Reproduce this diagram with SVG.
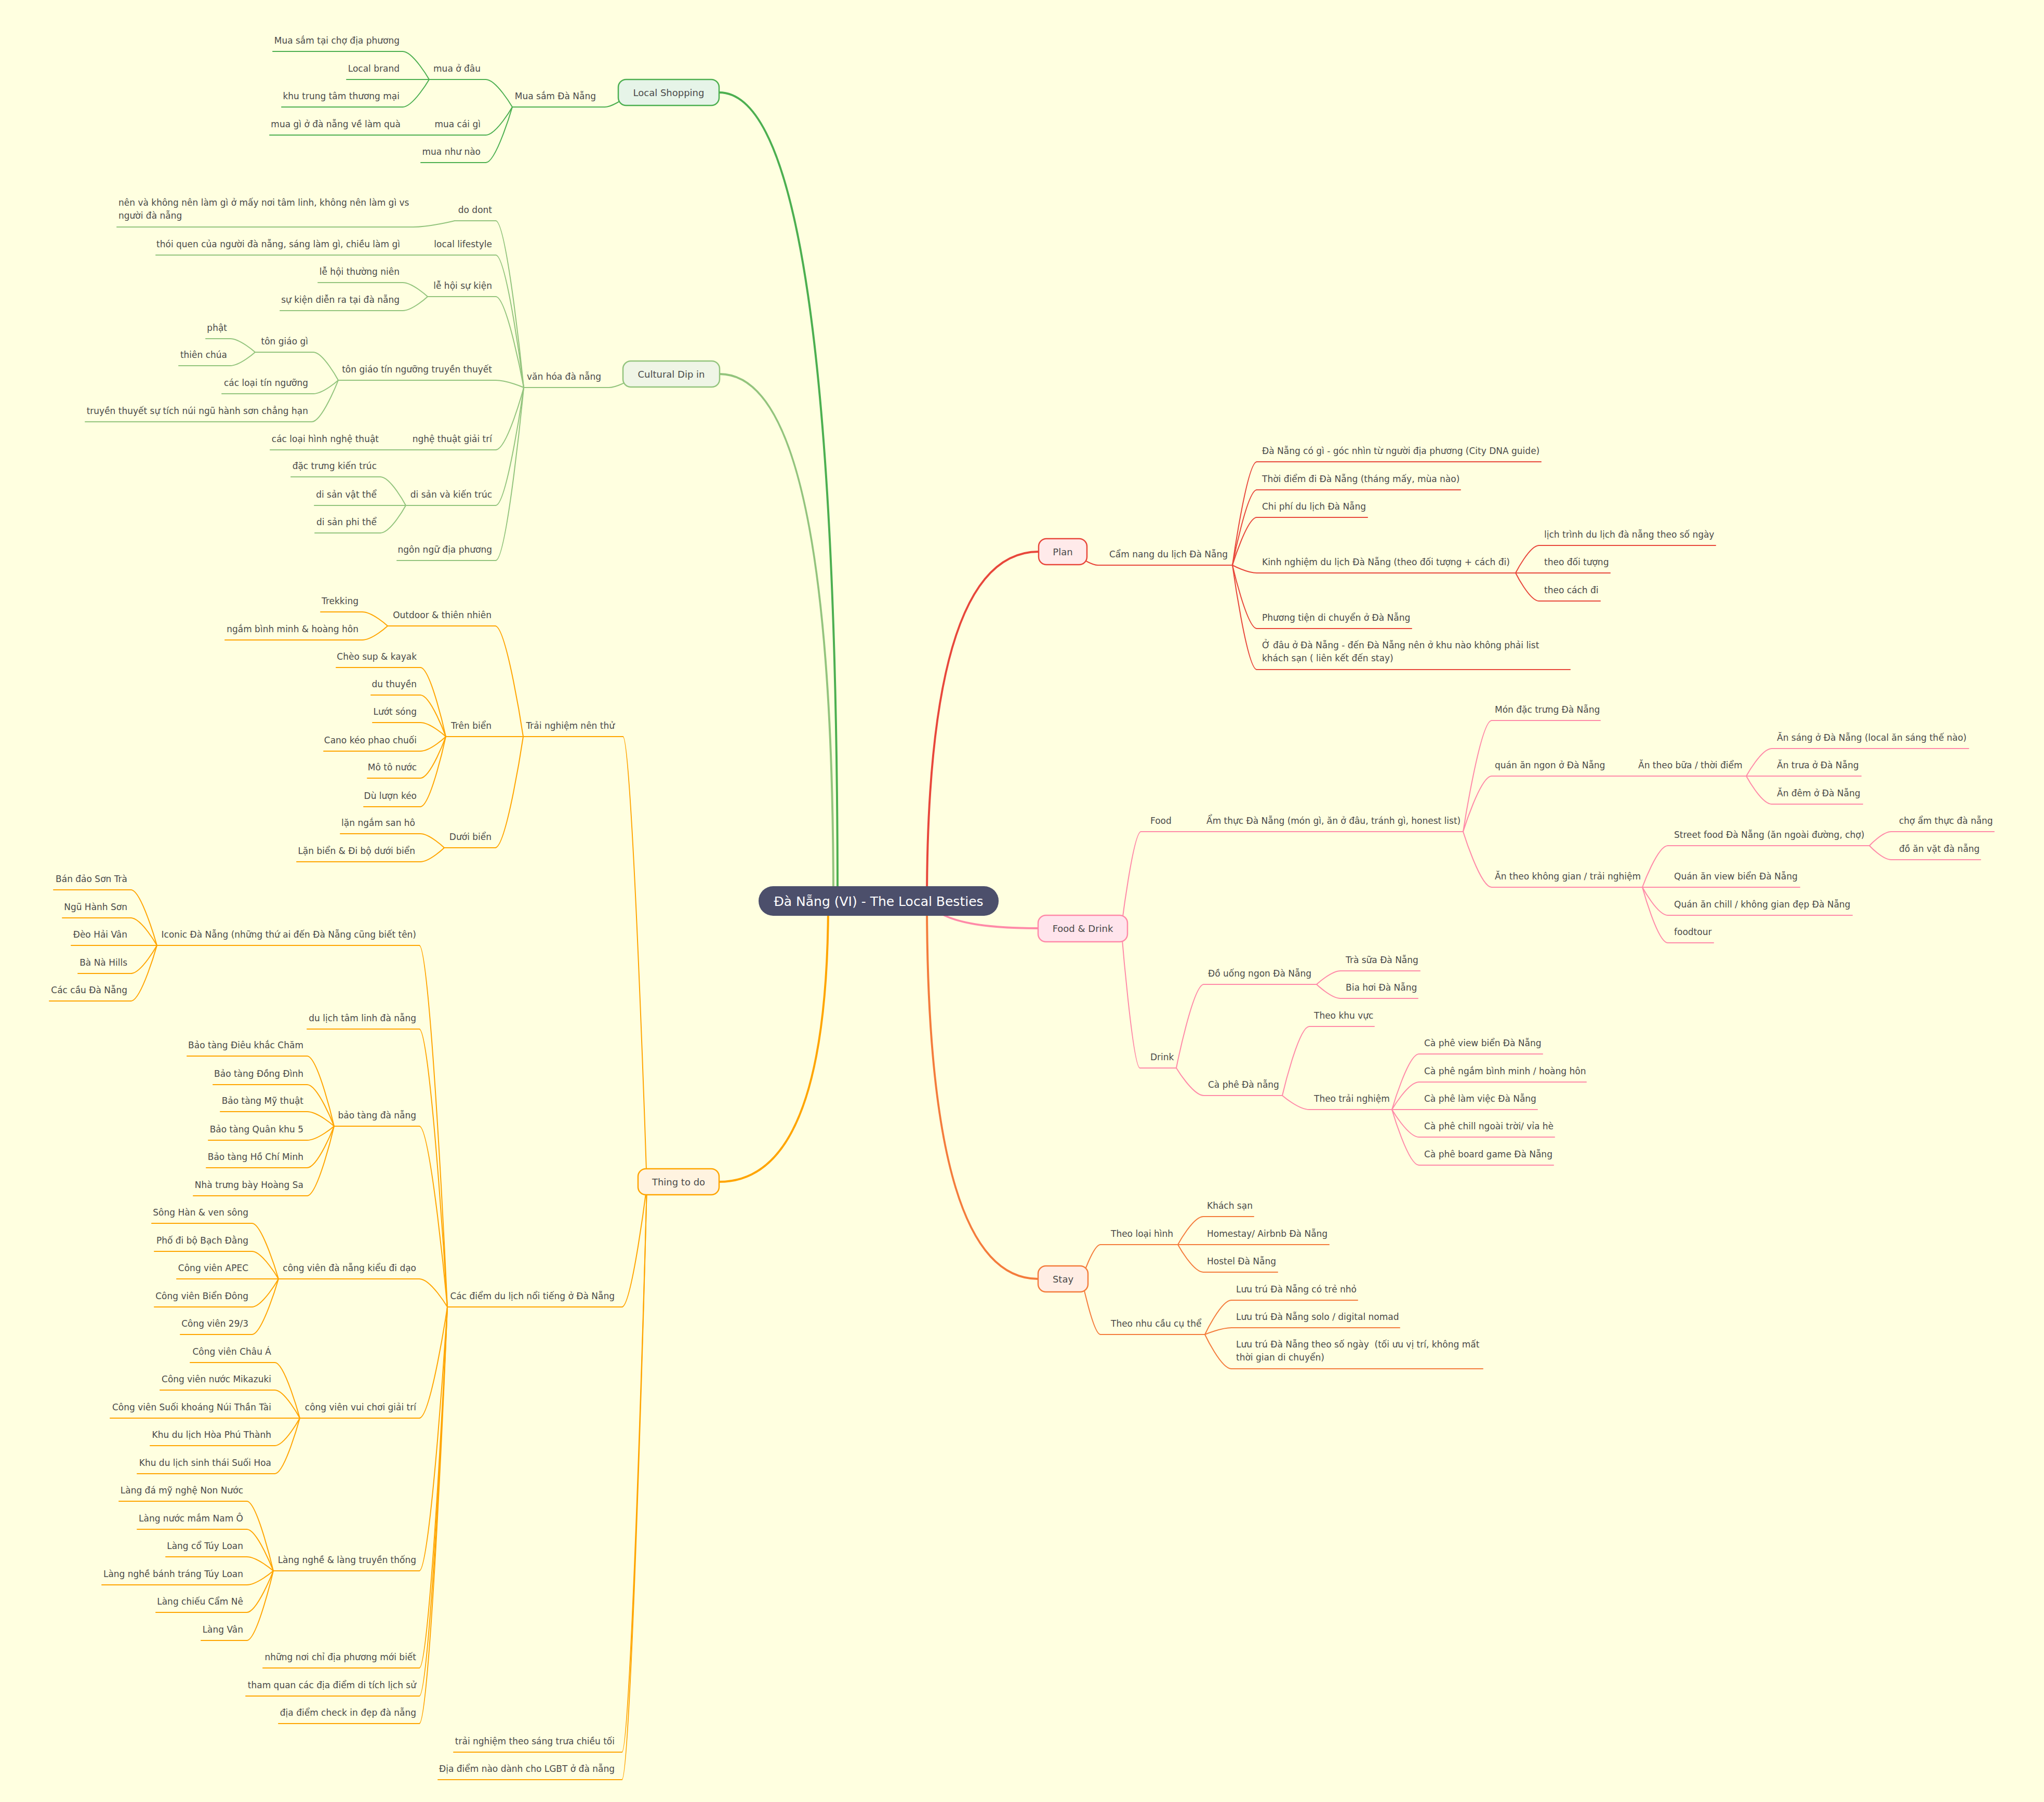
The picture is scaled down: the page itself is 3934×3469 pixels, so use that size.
<svg xmlns="http://www.w3.org/2000/svg" width="3934" height="3469" viewBox="0 0 3934 3469">
<style>
.t{font-family:"DejaVu Sans","Liberation Sans",sans-serif;font-size:17px;fill:#4a4a4a}
.e{text-anchor:end}
.m{font-size:18px;text-anchor:middle}
.rt{font-size:25px;text-anchor:middle;fill:#ffffff}
path{fill:none;stroke-width:2;stroke-linecap:round}
.g{stroke:#4caf50}.c{stroke:#93c47d}.o{stroke:#ffa500}.r{stroke:#e8473b}.p{stroke:#ff8aa8}.s{stroke:#f47c3c}
.mn{stroke-width:4}
.bx{stroke-width:2.5}
</style>
<rect width="3934" height="3469" fill="#ffffe0"/>
<g id="connectors">
<g class="g">
<path d="M1164,206 C1178,206 1200,190 1200,190"/>
<path d="M935,153 C955,153 986,206 986,206"/>
<path d="M935,260 C955,260 986,206 986,206"/>
<path d="M935,313 C955,313 986,206 986,206"/>
<path d="M775,99 C795,99 826,153 826,153"/>
<path d="M775,153 H826"/>
<path d="M775,206 C795,206 826,153 826,153"/>
<path d="M777,260 H829"/>
</g>
<g class="c">
<path d="M1172,746 C1187,746 1209,733 1209,733"/>
<path d="M954,425 C976,425 1008,746 1008,746"/>
<path d="M954,491 C976,491 1008,746 1008,746"/>
<path d="M954,571 C976,571 1008,746 1008,746"/>
<path d="M954,732 C976,732 1008,746 1008,746"/>
<path d="M954,866 C976,866 1008,746 1008,746"/>
<path d="M954,973 C976,973 1008,746 1008,746"/>
<path d="M954,1079 C976,1079 1008,746 1008,746"/>
<path d="M795,437 C827,437 875,425 875,425"/>
<path d="M776,491 H828"/>
<path d="M775,544 C794,544 823,571 823,571"/>
<path d="M775,598 C794,598 823,571 823,571"/>
<path d="M603,678 C622,678 651,732 651,732"/>
<path d="M603,758 C622,758 651,732 651,732"/>
<path d="M600,812 C620,812 651,732 651,732"/>
<path d="M443,652 C462,652 491,678 491,678"/>
<path d="M443,704 C462,704 491,678 491,678"/>
<path d="M735,866 H790"/>
<path d="M732,918 C752,918 781,973 781,973"/>
<path d="M732,973 H781"/>
<path d="M732,1026 C752,1026 781,973 781,973"/>
</g>
<g class="o">
<path d="M1199,1418 C1217,1418 1245,2282 1245,2282"/>
<path d="M1197,2516 C1216,2516 1245,2282 1245,2282"/>
<path d="M1197,3373 C1216,3373 1245,2282 1245,2282"/>
<path d="M1197,3426 C1216,3426 1245,2282 1245,2282"/>
<path d="M953,1205 C975,1205 1007,1418 1007,1418"/>
<path d="M953,1418 H1007"/>
<path d="M953,1632 C975,1632 1007,1418 1007,1418"/>
<path d="M697,1178 C717,1178 746,1205 746,1205"/>
<path d="M697,1232 C717,1232 746,1205 746,1205"/>
<path d="M809,1285 C829,1285 858,1418 858,1418"/>
<path d="M809,1338 C829,1338 858,1418 858,1418"/>
<path d="M809,1391 C829,1391 858,1418 858,1418"/>
<path d="M809,1446 C829,1446 858,1418 858,1418"/>
<path d="M809,1498 C829,1498 858,1418 858,1418"/>
<path d="M809,1553 C829,1553 858,1418 858,1418"/>
<path d="M809,1605 C827,1605 855,1632 855,1632"/>
<path d="M809,1659 C827,1659 855,1632 855,1632"/>
<path d="M807,1820 C829,1820 861,2516 861,2516"/>
<path d="M807,1981 C829,1981 861,2516 861,2516"/>
<path d="M807,2168 C829,2168 861,2516 861,2516"/>
<path d="M807,2462 C829,2462 861,2516 861,2516"/>
<path d="M807,2730 C829,2730 861,2516 861,2516"/>
<path d="M807,3024 C829,3024 861,2516 861,2516"/>
<path d="M807,3211 C829,3211 861,2516 861,2516"/>
<path d="M807,3265 C829,3265 861,2516 861,2516"/>
<path d="M807,3318 C829,3318 861,2516 861,2516"/>
<path d="M252,1713 C272,1713 302,1820 302,1820"/>
<path d="M252,1767 C272,1767 302,1820 302,1820"/>
<path d="M252,1820 H302"/>
<path d="M252,1874 C272,1874 302,1820 302,1820"/>
<path d="M252,1927 C272,1927 302,1820 302,1820"/>
<path d="M591,2033 C612,2033 643,2168 643,2168"/>
<path d="M591,2088 C612,2088 643,2168 643,2168"/>
<path d="M591,2140 C612,2140 643,2168 643,2168"/>
<path d="M591,2195 C612,2195 643,2168 643,2168"/>
<path d="M591,2248 C612,2248 643,2168 643,2168"/>
<path d="M591,2302 C612,2302 643,2168 643,2168"/>
<path d="M485,2355 C505,2355 536,2462 536,2462"/>
<path d="M485,2409 C505,2409 536,2462 536,2462"/>
<path d="M485,2462 H536"/>
<path d="M485,2516 C505,2516 536,2462 536,2462"/>
<path d="M485,2569 C505,2569 536,2462 536,2462"/>
<path d="M529,2623 C548,2623 577,2730 577,2730"/>
<path d="M529,2676 C548,2676 577,2730 577,2730"/>
<path d="M529,2730 H577"/>
<path d="M529,2783 C548,2783 577,2730 577,2730"/>
<path d="M529,2837 C548,2837 577,2730 577,2730"/>
<path d="M475,2890 C495,2890 526,3024 526,3024"/>
<path d="M475,2944 C495,2944 526,3024 526,3024"/>
<path d="M475,2997 C495,2997 526,3024 526,3024"/>
<path d="M475,3051 C495,3051 526,3024 526,3024"/>
<path d="M475,3104 C495,3104 526,3024 526,3024"/>
<path d="M475,3158 C495,3158 526,3024 526,3024"/>
</g>
<g class="r">
<path d="M2113,1088 C2101,1088 2082,1075 2082,1075"/>
<path d="M2419,889 C2400,889 2372,1088 2372,1088"/>
<path d="M2419,943 C2400,943 2372,1088 2372,1088"/>
<path d="M2419,996 C2400,996 2372,1088 2372,1088"/>
<path d="M2419,1103 C2400,1103 2372,1088 2372,1088"/>
<path d="M2419,1210 C2400,1210 2372,1088 2372,1088"/>
<path d="M2419,1289 C2400,1289 2372,1088 2372,1088"/>
<path d="M2962,1050 C2944,1050 2917,1103 2917,1103"/>
<path d="M2962,1103 H2917"/>
<path d="M2962,1157 C2944,1157 2917,1103 2917,1103"/>
</g>
<g class="p">
<path d="M2196,1601 C2181,1601 2158,1787 2158,1787"/>
<path d="M2194,2056 C2180,2056 2158,1787 2158,1787"/>
<path d="M2264,1601 H2314"/>
<path d="M2871,1387 C2849,1387 2816,1601 2816,1601"/>
<path d="M2871,1494 C2849,1494 2816,1601 2816,1601"/>
<path d="M2871,1708 C2849,1708 2816,1601 2816,1601"/>
<path d="M3095,1494 H3145"/>
<path d="M3410,1441 C3390,1441 3361,1494 3361,1494"/>
<path d="M3410,1494 H3361"/>
<path d="M3410,1548 C3390,1548 3361,1494 3361,1494"/>
<path d="M3210,1628 C3190,1628 3161,1708 3161,1708"/>
<path d="M3210,1708 H3161"/>
<path d="M3210,1762 C3190,1762 3161,1708 3161,1708"/>
<path d="M3210,1815 C3190,1815 3161,1708 3161,1708"/>
<path d="M3640,1601 C3623,1601 3598,1628 3598,1628"/>
<path d="M3640,1655 C3623,1655 3598,1628 3598,1628"/>
<path d="M2317,1895 C2296,1895 2264,2056 2264,2056"/>
<path d="M2317,2109 C2296,2109 2264,2056 2264,2056"/>
<path d="M2580,1869 C2562,1869 2534,1895 2534,1895"/>
<path d="M2580,1922 C2562,1922 2534,1895 2534,1895"/>
<path d="M2520,1976 C2499,1976 2468,2109 2468,2109"/>
<path d="M2520,2136 C2499,2136 2468,2109 2468,2109"/>
<path d="M2731,2029 C2710,2029 2679,2136 2679,2136"/>
<path d="M2731,2083 C2710,2083 2679,2136 2679,2136"/>
<path d="M2731,2136 H2679"/>
<path d="M2731,2189 C2710,2189 2679,2136 2679,2136"/>
<path d="M2731,2243 C2710,2243 2679,2136 2679,2136"/>
</g>
<g class="s">
<path d="M2118,2396 C2104,2396 2082,2462 2082,2462"/>
<path d="M2118,2569 C2104,2569 2082,2462 2082,2462"/>
<path d="M2316,2342 C2296,2342 2267,2396 2267,2396"/>
<path d="M2316,2396 H2267"/>
<path d="M2316,2449 C2296,2449 2267,2396 2267,2396"/>
<path d="M2370,2503 C2350,2503 2319,2569 2319,2569"/>
<path d="M2370,2556 C2350,2556 2319,2569 2319,2569"/>
<path d="M2370,2635 C2350,2635 2319,2569 2319,2569"/>
</g>
<path class="g mn" d="M1612,1735 Q1612,178 1384,178"/>
<path class="c mn" d="M1604,1735 Q1604,720 1385,720"/>
<path class="o mn" d="M1594,1735 Q1594,2275 1384,2275"/>
<path class="r mn" d="M1784,1735 Q1784,1062 1999,1062"/>
<path class="s mn" d="M1784,1735 Q1784,2462 1998,2462"/>
<path class="p mn" d="M1790,1740 Q1820,1787 1998,1787"/>
</g>

<!-- Local Shopping -->
<g id="n-mua-sam"><path class="g" d="M986,206 H1164"/><text class="t e" x="1147" y="191">Mua sắm Đà Nẵng</text></g>
<g id="n-mua-o-dau"><path class="g" d="M826,153 H935"/><text class="t e" x="925" y="138">mua ở đâu</text></g>
<g id="n-cho"><path class="g" d="M525,99 H775"/><text class="t e" x="769" y="84">Mua sắm tại chợ địa phương</text></g>
<g id="n-local-brand"><path class="g" d="M667,153 H775"/><text class="t e" x="769" y="138">Local brand</text></g>
<g id="n-ttm"><path class="g" d="M542,206 H775"/><text class="t e" x="769" y="191">khu trung tâm thương mại</text></g>
<g id="n-mua-cai-gi"><path class="g" d="M829,260 H935"/><text class="t e" x="925" y="245">mua cái gì</text></g>
<g id="n-qua"><path class="g" d="M519,260 H777"/><text class="t e" x="771" y="245">mua gì ở đà nẵng về làm quà</text></g>
<g id="n-mua-nhu-nao"><path class="g" d="M810,313 H935"/><text class="t e" x="925" y="298">mua như nào</text></g>

<!-- Cultural -->
<g id="n-van-hoa"><path class="c" d="M1008,746 H1172"/><text class="t e" x="1157" y="731">văn hóa đà nẵng</text></g>
<g id="n-do-dont"><path class="c" d="M875,425 H954"/><text class="t e" x="947" y="410">do dont</text></g>
<g id="n-nen"><path class="c" d="M225,437 H795"/><text class="t" x="228" y="396">nên và không nên làm gì ở mấy nơi tâm linh, không nên làm gì vs</text><text class="t" x="228" y="421">người đà nẵng</text></g>
<g id="n-lifestyle"><path class="c" d="M828,491 H954"/><text class="t e" x="947" y="476">local lifestyle</text></g>
<g id="n-thoi-quen"><path class="c" d="M300,491 H776"/><text class="t e" x="770" y="476">thói quen của người đà nẵng, sáng làm gì, chiều làm gì</text></g>
<g id="n-le-hoi"><path class="c" d="M823,571 H954"/><text class="t e" x="947" y="556">lễ hội sự kiện</text></g>
<g id="n-le-hoi-tn"><path class="c" d="M612,544 H775"/><text class="t e" x="769" y="529">lễ hội thường niên</text></g>
<g id="n-su-kien"><path class="c" d="M539,598 H775"/><text class="t e" x="769" y="583">sự kiện diễn ra tại đà nẵng</text></g>
<g id="n-ton-giao-tn"><path class="c" d="M651,732 H954"/><text class="t e" x="947" y="717">tôn giáo tín ngưỡng truyền thuyết</text></g>
<g id="n-ton-giao-gi"><path class="c" d="M491,678 H603"/><text class="t e" x="593" y="663">tôn giáo gì</text></g>
<g id="n-phat"><path class="c" d="M396,652 H443"/><text class="t e" x="437" y="637">phật</text></g>
<g id="n-thien-chua"><path class="c" d="M344,704 H443"/><text class="t e" x="437" y="689">thiên chúa</text></g>
<g id="n-tin-nguong"><path class="c" d="M427,758 H603"/><text class="t e" x="593" y="743">các loại tín ngưỡng</text></g>
<g id="n-truyen-thuyet"><path class="c" d="M164,812 H600"/><text class="t e" x="593" y="797">truyền thuyết sự tích núi ngũ hành sơn chẳng hạn</text></g>
<g id="n-nghe-thuat"><path class="c" d="M790,866 H954"/><text class="t e" x="947" y="851">nghệ thuật giải trí</text></g>
<g id="n-loai-hinh-nt"><path class="c" d="M520,866 H735"/><text class="t e" x="729" y="851">các loại hình nghệ thuật</text></g>
<g id="n-di-san"><path class="c" d="M781,973 H954"/><text class="t e" x="947" y="958">di sản và kiến trúc</text></g>
<g id="n-dac-trung"><path class="c" d="M560,918 H732"/><text class="t e" x="725" y="903">đặc trưng kiến trúc</text></g>
<g id="n-vat-the"><path class="c" d="M605,973 H732"/><text class="t e" x="725" y="958">di sản vật thể</text></g>
<g id="n-phi-the"><path class="c" d="M606,1026 H732"/><text class="t e" x="725" y="1011">di sản phi thể</text></g>
<g id="n-ngon-ngu"><path class="c" d="M764,1079 H954"/><text class="t e" x="947" y="1064">ngôn ngữ địa phương</text></g>

<!-- Thing to do -->
<g id="n-trai-nghiem"><path class="o" d="M1007,1418 H1199"/><text class="t e" x="1183" y="1403">Trải nghiệm nên thử</text></g>
<g id="n-outdoor"><path class="o" d="M746,1205 H953"/><text class="t e" x="946" y="1190">Outdoor &amp; thiên nhiên</text></g>
<g id="n-trekking"><path class="o" d="M617,1178 H697"/><text class="t e" x="690" y="1163">Trekking</text></g>
<g id="n-ngam"><path class="o" d="M433,1232 H697"/><text class="t e" x="690" y="1217">ngắm bình minh &amp; hoàng hôn</text></g>
<g id="n-tren-bien"><path class="o" d="M858,1418 H953"/><text class="t e" x="946" y="1403">Trên biển</text></g>
<g id="n-sup"><path class="o" d="M647,1285 H809"/><text class="t e" x="802" y="1270">Chèo sup &amp; kayak</text></g>
<g id="n-du-thuyen"><path class="o" d="M714,1338 H809"/><text class="t e" x="802" y="1323">du thuyền</text></g>
<g id="n-luot-song"><path class="o" d="M717,1391 H809"/><text class="t e" x="802" y="1376">Lướt sóng</text></g>
<g id="n-cano"><path class="o" d="M623,1446 H809"/><text class="t e" x="802" y="1431">Cano kéo phao chuối</text></g>
<g id="n-moto"><path class="o" d="M707,1498 H809"/><text class="t e" x="802" y="1483">Mô tô nước</text></g>
<g id="n-du-luon"><path class="o" d="M700,1553 H809"/><text class="t e" x="802" y="1538">Dù lượn kéo</text></g>
<g id="n-duoi-bien"><path class="o" d="M855,1632 H953"/><text class="t e" x="946" y="1617">Dưới biển</text></g>
<g id="n-lan-ngam"><path class="o" d="M655,1605 H809"/><text class="t e" x="799" y="1590">lặn ngắm san hô</text></g>
<g id="n-lan-bien"><path class="o" d="M571,1659 H809"/><text class="t e" x="799" y="1644">Lặn biển &amp; Đi bộ dưới biển</text></g>
<g id="n-cac-diem"><path class="o" d="M861,2516 H1197"/><text class="t e" x="1183" y="2501">Các điểm du lịch nổi tiếng ở Đà Nẵng</text></g>
<g id="n-iconic"><path class="o" d="M302,1820 H807"/><text class="t e" x="801" y="1805">Iconic Đà Nẵng (những thứ ai đến Đà Nẵng cũng biết tên)</text></g>
<g id="n-son-tra"><path class="o" d="M103,1713 H252"/><text class="t e" x="245" y="1698">Bán đảo Sơn Trà</text></g>
<g id="n-ngu-hanh-son"><path class="o" d="M120,1767 H252"/><text class="t e" x="245" y="1752">Ngũ Hành Sơn</text></g>
<g id="n-hai-van"><path class="o" d="M137,1820 H252"/><text class="t e" x="245" y="1805">Đèo Hải Vân</text></g>
<g id="n-ba-na"><path class="o" d="M150,1874 H252"/><text class="t e" x="245" y="1859">Bà Nà Hills</text></g>
<g id="n-cau"><path class="o" d="M95,1927 H252"/><text class="t e" x="245" y="1912">Các cầu Đà Nẵng</text></g>
<g id="n-tam-linh"><path class="o" d="M591,1981 H807"/><text class="t e" x="801" y="1966">du lịch tâm linh đà nẵng</text></g>
<g id="n-bao-tang"><path class="o" d="M643,2168 H807"/><text class="t e" x="801" y="2153">bảo tàng đà nẵng</text></g>
<g id="n-bt-cham"><path class="o" d="M360,2033 H591"/><text class="t e" x="584" y="2018">Bảo tàng Điêu khắc Chăm</text></g>
<g id="n-bt-dong-dinh"><path class="o" d="M410,2088 H591"/><text class="t e" x="584" y="2073">Bảo tàng Đồng Đình</text></g>
<g id="n-bt-my-thuat"><path class="o" d="M424,2140 H591"/><text class="t e" x="584" y="2125">Bảo tàng Mỹ thuật</text></g>
<g id="n-bt-quan-khu"><path class="o" d="M401,2195 H591"/><text class="t e" x="584" y="2180">Bảo tàng Quân khu 5</text></g>
<g id="n-bt-hcm"><path class="o" d="M397,2248 H591"/><text class="t e" x="584" y="2233">Bảo tàng Hồ Chí Minh</text></g>
<g id="n-hoang-sa"><path class="o" d="M372,2302 H591"/><text class="t e" x="584" y="2287">Nhà trưng bày Hoàng Sa</text></g>
<g id="n-cv-di-dao"><path class="o" d="M536,2462 H807"/><text class="t e" x="801" y="2447">công viên đà nẵng kiểu đi dạo</text></g>
<g id="n-song-han"><path class="o" d="M292,2355 H485"/><text class="t e" x="478" y="2340">Sông Hàn &amp; ven sông</text></g>
<g id="n-bach-dang"><path class="o" d="M297,2409 H485"/><text class="t e" x="478" y="2394">Phố đi bộ Bạch Đằng</text></g>
<g id="n-apec"><path class="o" d="M340,2462 H485"/><text class="t e" x="478" y="2447">Công viên APEC</text></g>
<g id="n-bien-dong"><path class="o" d="M297,2516 H485"/><text class="t e" x="478" y="2501">Công viên Biển Đông</text></g>
<g id="n-29-3"><path class="o" d="M347,2569 H485"/><text class="t e" x="478" y="2554">Công viên 29/3</text></g>
<g id="n-vui-choi"><path class="o" d="M577,2730 H807"/><text class="t e" x="801" y="2715">công viên vui chơi giải trí</text></g>
<g id="n-chau-a"><path class="o" d="M366,2623 H529"/><text class="t e" x="522" y="2608">Công viên Châu Á</text></g>
<g id="n-mikazuki"><path class="o" d="M308,2676 H529"/><text class="t e" x="522" y="2661">Công viên nước Mikazuki</text></g>
<g id="n-than-tai"><path class="o" d="M212,2730 H529"/><text class="t e" x="522" y="2715">Công viên Suối khoáng Núi Thần Tài</text></g>
<g id="n-hoa-phu"><path class="o" d="M289,2783 H529"/><text class="t e" x="522" y="2768">Khu du lịch Hòa Phú Thành</text></g>
<g id="n-suoi-hoa"><path class="o" d="M264,2837 H529"/><text class="t e" x="522" y="2822">Khu du lịch sinh thái Suối Hoa</text></g>
<g id="n-lang-nghe"><path class="o" d="M526,3024 H807"/><text class="t e" x="801" y="3009">Làng nghề &amp; làng truyền thống</text></g>
<g id="n-non-nuoc"><path class="o" d="M229,2890 H475"/><text class="t e" x="468" y="2875">Làng đá mỹ nghệ Non Nước</text></g>
<g id="n-nam-o"><path class="o" d="M264,2944 H475"/><text class="t e" x="468" y="2929">Làng nước mắm Nam Ô</text></g>
<g id="n-tuy-loan"><path class="o" d="M319,2997 H475"/><text class="t e" x="468" y="2982">Làng cổ Túy Loan</text></g>
<g id="n-banh-trang"><path class="o" d="M196,3051 H475"/><text class="t e" x="468" y="3036">Làng nghề bánh tráng Túy Loan</text></g>
<g id="n-cam-ne"><path class="o" d="M300,3104 H475"/><text class="t e" x="468" y="3089">Làng chiếu Cẩm Nê</text></g>
<g id="n-lang-van"><path class="o" d="M387,3158 H475"/><text class="t e" x="468" y="3143">Làng Vân</text></g>
<g id="n-dia-phuong"><path class="o" d="M506,3211 H807"/><text class="t e" x="801" y="3196">những nơi chỉ địa phương mới biết</text></g>
<g id="n-di-tich"><path class="o" d="M473,3265 H807"/><text class="t e" x="801" y="3250">tham quan các địa điểm di tích lịch sử</text></g>
<g id="n-check-in"><path class="o" d="M536,3318 H807"/><text class="t e" x="801" y="3303">địa điểm check in đẹp đà nẵng</text></g>
<g id="n-sang-trua"><path class="o" d="M873,3373 H1197"/><text class="t e" x="1183" y="3358">trải nghiệm theo sáng trưa chiều tối</text></g>
<g id="n-lgbt"><path class="o" d="M843,3426 H1197"/><text class="t e" x="1183" y="3411">Địa điểm nào dành cho LGBT ở đà nẵng</text></g>

<!-- Plan -->
<g id="n-cam-nang"><path class="r" d="M2113,1088 H2372"/><text class="t" x="2135" y="1073">Cẩm nang du lịch Đà Nẵng</text></g>
<g id="n-city-dna"><path class="r" d="M2419,889 H2966"/><text class="t" x="2429" y="874">Đà Nẵng có gì - góc nhìn từ người địa phương (City DNA guide)</text></g>
<g id="n-thoi-diem"><path class="r" d="M2419,943 H2811"/><text class="t" x="2429" y="928">Thời điểm đi Đà Nẵng (tháng mấy, mùa nào)</text></g>
<g id="n-chi-phi"><path class="r" d="M2419,996 H2632"/><text class="t" x="2429" y="981">Chi phí du lịch Đà Nẵng</text></g>
<g id="n-kinh-nghiem"><path class="r" d="M2419,1103 H2917"/><text class="t" x="2429" y="1088">Kinh nghiệm du lịch Đà Nẵng (theo đối tượng + cách đi)</text></g>
<g id="n-lich-trinh"><path class="r" d="M2962,1050 H3302"/><text class="t" x="2972" y="1035">lịch trình du lịch đà nẵng theo số ngày</text></g>
<g id="n-doi-tuong"><path class="r" d="M2962,1103 H3099"/><text class="t" x="2972" y="1088">theo đối tượng</text></g>
<g id="n-cach-di"><path class="r" d="M2962,1157 H3080"/><text class="t" x="2972" y="1142">theo cách đi</text></g>
<g id="n-phuong-tien"><path class="r" d="M2419,1210 H2717"/><text class="t" x="2429" y="1195">Phương tiện di chuyển ở Đà Nẵng</text></g>
<g id="n-o-dau"><path class="r" d="M2419,1289 H3022"/><text class="t" x="2429" y="1248">Ở đâu ở Đà Nẵng - đến Đà Nẵng nên ở khu nào không phải list</text><text class="t" x="2429" y="1273">khách sạn ( liên kết đến stay)</text></g>

<!-- Food & Drink -->
<g id="n-food"><path class="p" d="M2196,1601 H2264"/><text class="t" x="2214" y="1586">Food</text></g>
<g id="n-am-thuc"><path class="p" d="M2314,1601 H2816"/><text class="t" x="2322" y="1586">Ẩm thực Đà Nẵng (món gì, ăn ở đâu, tránh gì, honest list)</text></g>
<g id="n-mon-dac-trung"><path class="p" d="M2871,1387 H3080"/><text class="t" x="2877" y="1372">Món đặc trưng Đà Nẵng</text></g>
<g id="n-quan-an-ngon"><path class="p" d="M2871,1494 H3095"/><text class="t" x="2877" y="1479">quán ăn ngon ở Đà Nẵng</text></g>
<g id="n-theo-bua"><path class="p" d="M3145,1494 H3361"/><text class="t" x="3153" y="1479">Ăn theo bữa / thời điểm</text></g>
<g id="n-an-sang"><path class="p" d="M3410,1441 H3789"/><text class="t" x="3420" y="1426">Ăn sáng ở Đà Nẵng (local ăn sáng thế nào)</text></g>
<g id="n-an-trua"><path class="p" d="M3410,1494 H3582"/><text class="t" x="3420" y="1479">Ăn trưa ở Đà Nẵng</text></g>
<g id="n-an-dem"><path class="p" d="M3410,1548 H3585"/><text class="t" x="3420" y="1533">Ăn đêm ở Đà Nẵng</text></g>
<g id="n-khong-gian"><path class="p" d="M2871,1708 H3161"/><text class="t" x="2877" y="1693">Ăn theo không gian / trải nghiệm</text></g>
<g id="n-street-food"><path class="p" d="M3210,1628 H3598"/><text class="t" x="3222" y="1613">Street food Đà Nẵng (ăn ngoài đường, chợ)</text></g>
<g id="n-cho-am-thuc"><path class="p" d="M3640,1601 H3838"/><text class="t" x="3655" y="1586">chợ ẩm thực đà nẵng</text></g>
<g id="n-an-vat"><path class="p" d="M3640,1655 H3812"/><text class="t" x="3655" y="1640">đồ ăn vặt đà nẵng</text></g>
<g id="n-view-bien"><path class="p" d="M3210,1708 H3464"/><text class="t" x="3222" y="1693">Quán ăn view biển Đà Nẵng</text></g>
<g id="n-chill"><path class="p" d="M3210,1762 H3565"/><text class="t" x="3222" y="1747">Quán ăn chill / không gian đẹp Đà Nẵng</text></g>
<g id="n-foodtour"><path class="p" d="M3210,1815 H3298"/><text class="t" x="3222" y="1800">foodtour</text></g>
<g id="n-drink"><path class="p" d="M2194,2056 H2264"/><text class="t" x="2214" y="2041">Drink</text></g>
<g id="n-do-uong"><path class="p" d="M2317,1895 H2534"/><text class="t" x="2325" y="1880">Đồ uống ngon Đà Nẵng</text></g>
<g id="n-tra-sua"><path class="p" d="M2580,1869 H2733"/><text class="t" x="2590" y="1854">Trà sữa Đà Nẵng</text></g>
<g id="n-bia-hoi"><path class="p" d="M2580,1922 H2729"/><text class="t" x="2590" y="1907">Bia hơi Đà Nẵng</text></g>
<g id="n-ca-phe"><path class="p" d="M2317,2109 H2468"/><text class="t" x="2325" y="2094">Cà phê Đà nẵng</text></g>
<g id="n-khu-vuc"><path class="p" d="M2520,1976 H2645"/><text class="t" x="2529" y="1961">Theo khu vực</text></g>
<g id="n-theo-trai-nghiem"><path class="p" d="M2520,2136 H2679"/><text class="t" x="2529" y="2121">Theo trải nghiệm</text></g>
<g id="n-cp-view"><path class="p" d="M2731,2029 H2969"/><text class="t" x="2741" y="2014">Cà phê view biển Đà Nẵng</text></g>
<g id="n-cp-ngam"><path class="p" d="M2731,2083 H3053"/><text class="t" x="2741" y="2068">Cà phê ngắm bình minh / hoàng hôn</text></g>
<g id="n-cp-lam-viec"><path class="p" d="M2731,2136 H2959"/><text class="t" x="2741" y="2121">Cà phê làm việc Đà Nẵng</text></g>
<g id="n-cp-chill"><path class="p" d="M2731,2189 H2992"/><text class="t" x="2741" y="2174">Cà phê chill ngoài trời/ vỉa hè</text></g>
<g id="n-cp-board"><path class="p" d="M2731,2243 H2990"/><text class="t" x="2741" y="2228">Cà phê board game Đà Nẵng</text></g>

<!-- Stay -->
<g id="n-loai-hinh"><path class="s" d="M2118,2396 H2267"/><text class="t" x="2138" y="2381">Theo loại hình</text></g>
<g id="n-khach-san"><path class="s" d="M2316,2342 H2413"/><text class="t" x="2323" y="2327">Khách sạn</text></g>
<g id="n-homestay"><path class="s" d="M2316,2396 H2558"/><text class="t" x="2323" y="2381">Homestay/ Airbnb Đà Nẵng</text></g>
<g id="n-hostel"><path class="s" d="M2316,2449 H2459"/><text class="t" x="2323" y="2434">Hostel Đà Nẵng</text></g>
<g id="n-nhu-cau"><path class="s" d="M2118,2569 H2319"/><text class="t" x="2138" y="2554">Theo nhu cầu cụ thể</text></g>
<g id="n-tre-nho"><path class="s" d="M2370,2503 H2613"/><text class="t" x="2379" y="2488">Lưu trú Đà Nẵng có trẻ nhỏ</text></g>
<g id="n-solo"><path class="s" d="M2370,2556 H2694"/><text class="t" x="2379" y="2541">Lưu trú Đà Nẵng solo / digital nomad</text></g>
<g id="n-so-ngay"><path class="s" d="M2370,2635 H2854"/><text class="t" x="2379" y="2594">Lưu trú Đà Nẵng theo số ngày &#160;(tối ưu vị trí, không mất</text><text class="t" x="2379" y="2619">thời gian di chuyển)</text></g>

<!-- Main topics -->
<g id="n-local-shopping"><rect class="bx g" x="1190" y="153" width="194" height="50" rx="15" fill="#e6f4e8"/><text class="t m" x="1287" y="185">Local Shopping</text></g>
<g id="n-cultural"><rect class="bx c" x="1199" y="695" width="186" height="50" rx="15" fill="#eff5e6"/><text class="t m" x="1292" y="727">Cultural Dip in</text></g>
<g id="n-thing-to-do"><rect class="bx o" x="1228" y="2250" width="156" height="50" rx="15" fill="#fff3e0"/><text class="t m" x="1306" y="2282">Thing to do</text></g>
<g id="n-plan"><rect class="bx r" x="1999" y="1037" width="93" height="50" rx="15" fill="#ffeaea"/><text class="t m" x="2045.5" y="1069">Plan</text></g>
<g id="n-food-drink"><rect class="bx p" x="1998" y="1762" width="172" height="51" rx="15" fill="#ffe4ec"/><text class="t m" x="2084" y="1794">Food &amp; Drink</text></g>
<g id="n-stay"><rect class="bx s" x="1998" y="2437" width="96" height="50" rx="15" fill="#ffede4"/><text class="t m" x="2046" y="2469">Stay</text></g>
<g id="n-root"><rect x="1460" y="1706" width="462" height="57" rx="28" fill="#4c4f6b"/><text class="t rt" x="1691" y="1744">Đà Nẵng (VI) - The Local Besties</text></g>
</svg>
